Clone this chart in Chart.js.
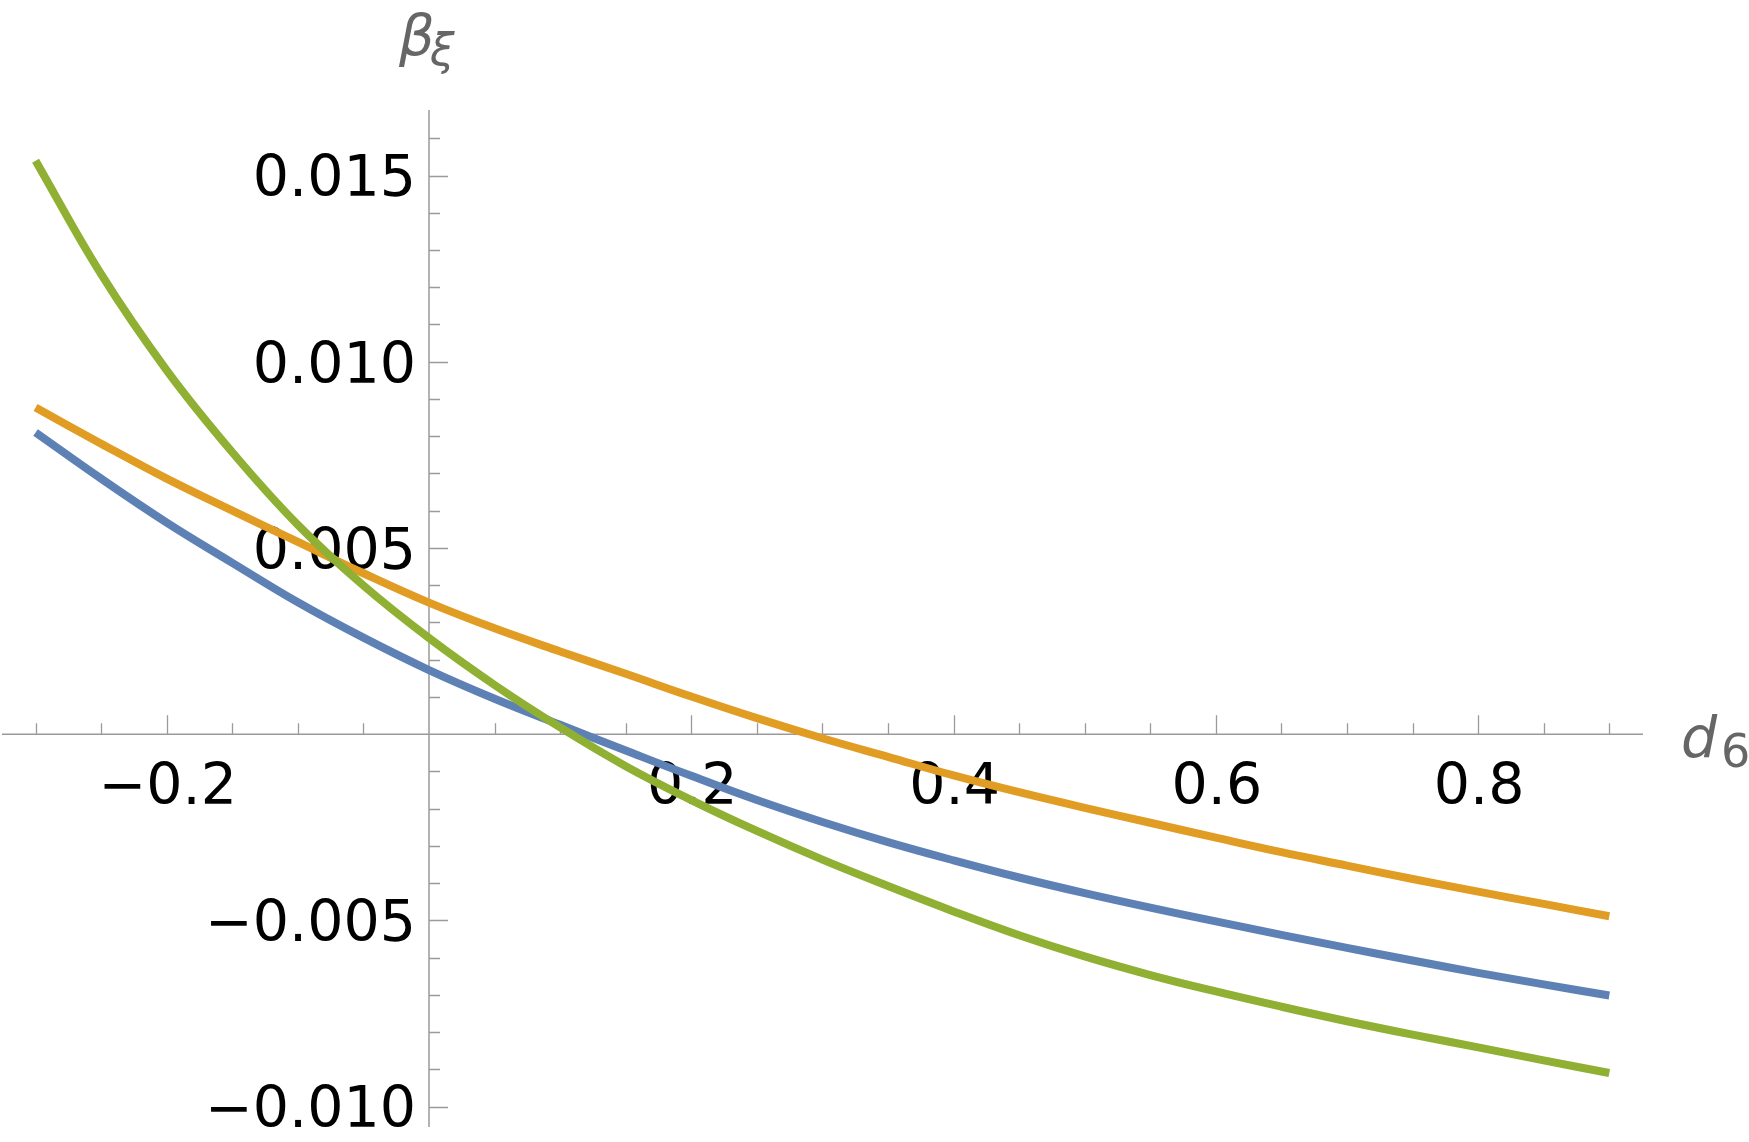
<!DOCTYPE html>
<html>
<head>
<meta charset="utf-8">
<script src="https://cdn.jsdelivr.net/npm/chart.js@4.4.1/dist/chart.umd.min.js"></script>
<style>
html, body { margin: 0; padding: 0; background: #ffffff; }
#wrap { width: 1749px; height: 1142px; position: relative; }
</style>
</head>
<body>
<div id="wrap"><canvas id="c"></canvas></div>
<script>
// ---- data ----
const d6 = [-0.30, -0.25, -0.20, -0.15, -0.10, -0.05, 0.00, 0.05, 0.10, 0.15, 0.20, 0.25,
            0.30, 0.35, 0.40, 0.45, 0.50, 0.55, 0.60, 0.65, 0.70, 0.75, 0.80, 0.85, 0.90];
const betaBlue = [0.00810, 0.00686, 0.00568, 0.00460, 0.00354, 0.00259, 0.00172, 0.00095, 0.00025,
                  -0.00044, -0.00112, -0.00177, -0.00236, -0.00290, -0.00339, -0.00385, -0.00427,
                  -0.00466, -0.00503, -0.00539, -0.00574, -0.00608, -0.00641, -0.00672, -0.00702];
const betaOrange = [0.00877, 0.00780, 0.00686, 0.00600, 0.00516, 0.00432, 0.00353, 0.00284, 0.00222,
                    0.00162, 0.00101, 0.00043, -0.00011, -0.00061, -0.00111, -0.00156, -0.00198,
                    -0.00238, -0.00278, -0.00317, -0.00353, -0.00389, -0.00423, -0.00456, -0.00489];
const betaGreen = [0.01540, 0.01235, 0.00977, 0.00757, 0.00562, 0.00399, 0.00258, 0.00132, 0.00018,
                   -0.00086, -0.00177, -0.00260, -0.00337, -0.00408, -0.00476, -0.00540, -0.00597,
                   -0.00647, -0.00691, -0.00732, -0.00771, -0.00807, -0.00841, -0.00876, -0.00910];

const xTickValues = [-0.2, 0.2, 0.4, 0.6, 0.8];
const xTickLabels = ["\u22120.2", "0.2", "0.4", "0.6", "0.8"];
const yTickValues = [0.015, 0.010, 0.005, -0.005, -0.010];
const yTickLabels = ["0.015", "0.010", "0.005", "\u22120.005", "\u22120.010"];
const xAxisLabel = ["d", "6"];
const yAxisLabel = ["\u03B2", "\u03BE"];

// ---- styling ----
const AXIS_COLOR = '#9a9a9a';
const LABEL_COLOR = '#666666';
const FONT = '"DejaVu Sans", "Liberation Sans", sans-serif';

function pts(vals) { return d6.map((d, i) => ({ x: d, y: vals[i] })); }

const mmaAxes = {
  id: 'mmaAxes',
  beforeDatasetsDraw(chart) {
    const { ctx, chartArea: a, scales: { x, y } } = chart;
    const x0 = x.getPixelForValue(0);
    const y0 = y.getPixelForValue(0);
    ctx.save();
    // axis lines
    ctx.strokeStyle = AXIS_COLOR;
    ctx.lineWidth = 1.5;
    ctx.beginPath();
    ctx.moveTo(a.left, y0); ctx.lineTo(a.right, y0);
    ctx.moveTo(x0, a.top); ctx.lineTo(x0, a.bottom);
    ctx.stroke();
    // tick marks (pointing inward, Mathematica style)
    ctx.lineWidth = 1.3;
    ctx.beginPath();
    for (let i = -6; i <= 18; i++) {
      if (i === 0) continue;
      const px = Math.round(x.getPixelForValue(i * 0.05)) + 0.5;
      const len = (i % 4 === 0) ? 19 : 11;
      ctx.moveTo(px, y0); ctx.lineTo(px, y0 - len);
    }
    for (let j = -10; j <= 16; j++) {
      if (j === 0) continue;
      const py = Math.round(y.getPixelForValue(j * 0.001)) + 0.5;
      const len = (j % 5 === 0) ? 19 : 11;
      ctx.moveTo(x0, py); ctx.lineTo(x0 + len, py);
    }
    ctx.stroke();
    // tick labels
    ctx.fillStyle = '#000000';
    ctx.font = '57px ' + FONT;
    ctx.textBaseline = 'alphabetic';
    ctx.textAlign = 'center';
    xTickValues.forEach((v, i) => ctx.fillText(xTickLabels[i], x.getPixelForValue(v) + 1, y0 + 70));
    ctx.textAlign = 'right';
    yTickValues.forEach((v, i) => ctx.fillText(yTickLabels[i], x0 - 13, y.getPixelForValue(v) + 20.8));
    // axis labels
    ctx.fillStyle = LABEL_COLOR;
    ctx.textAlign = 'left';
    ctx.font = 'italic 56px ' + FONT;
    ctx.fillText(yAxisLabel[0], x0 - 30, a.top - 55);
    ctx.font = 'italic 44px ' + FONT;
    ctx.fillText(yAxisLabel[1], x0 + 1, a.top - 45);
    ctx.font = 'italic 57px ' + FONT;
    ctx.fillText(xAxisLabel[0], a.right + 38, y0 + 23);
    ctx.font = '46px ' + FONT;
    ctx.fillText(xAxisLabel[1], a.right + 78, y0 + 33);
    ctx.restore();
  }
};

const lineStyle = { pointRadius: 0, borderWidth: 8, fill: false, tension: 0.4, borderCapStyle: 'butt', borderJoinStyle: 'round' };

new Chart(document.getElementById('c'), {
  type: 'line',
  data: {
    datasets: [
      Object.assign({ label: 'blue', data: pts(betaBlue), borderColor: '#5E81B5', order: 3 }, lineStyle),
      Object.assign({ label: 'orange', data: pts(betaOrange), borderColor: '#E19C24', order: 2 }, lineStyle),
      Object.assign({ label: 'green', data: pts(betaGreen), borderColor: '#8FB032', order: 1 }, lineStyle)
    ]
  },
  options: {
    responsive: true,
    maintainAspectRatio: false,
    animation: false,
    layout: { padding: { left: 2, right: 106, top: 110, bottom: 15 } },
    plugins: { legend: { display: false }, tooltip: { enabled: false } },
    scales: {
      x: { type: 'linear', min: -0.3256, max: 0.9257, display: false },
      y: { type: 'linear', min: -0.01055, max: 0.01676, display: false }
    }
  },
  plugins: [mmaAxes]
});
</script>
</body>
</html>
